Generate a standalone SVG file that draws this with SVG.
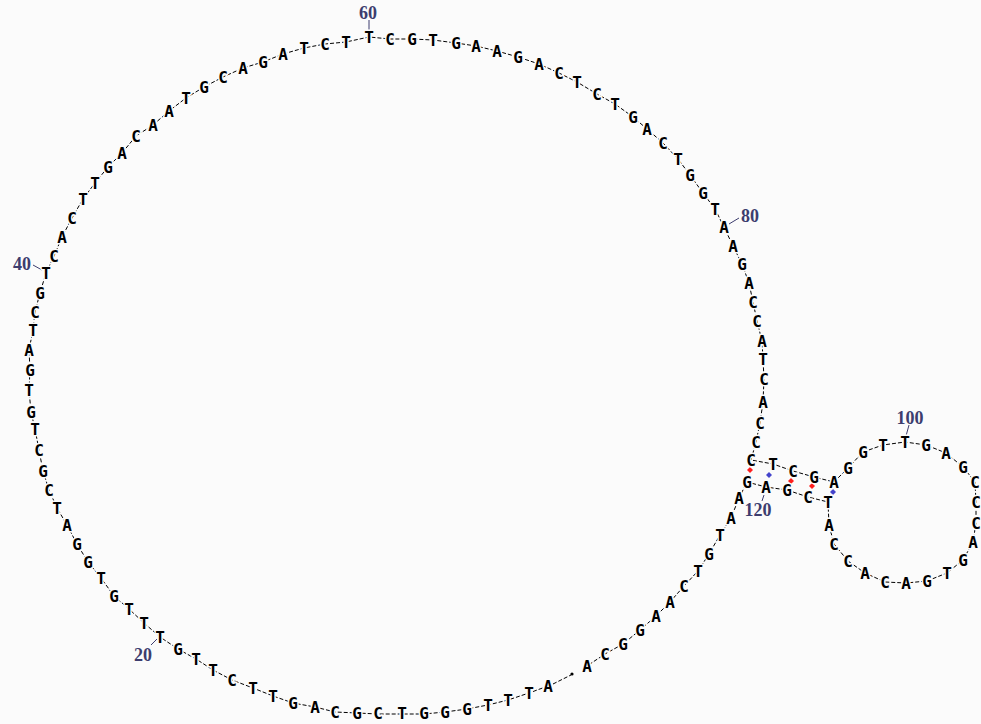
<svg xmlns="http://www.w3.org/2000/svg" width="981" height="724" viewBox="0 0 981 724">
<style>
.bg{fill:#fbfbfb}
.nt{font-family:"DejaVu Sans Mono","Liberation Mono",monospace;font-weight:bold;font-size:16px;text-anchor:middle;fill:#000;stroke:#fbfbfb;stroke-width:3px;paint-order:stroke;stroke-linejoin:round}
.bb{fill:none;stroke:#000;stroke-width:1;stroke-dasharray:4 2}
.num{font-family:"Liberation Serif","DejaVu Serif",serif;font-weight:bold;font-size:18px;text-anchor:middle;fill:#3d3d6e}
.tick{stroke:#3d3d6e;stroke-width:1}
.gc{fill:#ff1e1e}
.at{fill:#4444cc}
</style>
<rect class="bg" x="0" y="0" width="981" height="724"/>
<g id="connectors">
<polyline class="bb" points="548,686 529,693 508,700 488,705 467,709 445,712 424,714 402,714 378,714 357,713 335,712 315,707 293,703 273,696 253,688 232,680 213,670 196,659 178,649 160,637 144,623 129,609 114,596 101,578 88,562 77,544 67,525 57,508 49,490 43,471 39,450 35,429 31,412 29,390 30,370 29,350 33,330 35,312 40,293 46,273 54,256 62,237 72,218 83,199 95,183 108,167 122,153 136,136 153,125 169,111 186,98 204,87 223,77 243,68 263,62 283,54 304,48 325,44 346,42 369,37 390,39 412,39 433,40 456,43 476,46 497,51 518,57 539,64 559,73 577,82 597,94 615,104 633,117 647,129 663,143 678,159 690,175 703,193 715,209 724,227 733,246 742,264 749,283 753,302 757,321 762,341 763,359 764,379 763,402 760,423 756,442 751,460 773,464 793,471 814,477 834,482 848,468 863,452 883,445 905,442 926,445 946,453 963,467 975,482 976,502 976,523 973,542 963,560 947,573 927,581 906,583 885,582 865,573 848,561 834,544 829,525 828,502 808,497 787,490 766,487 747,482 739,498 731,518 720,535 709,554 698,571 684,586 670,602 656,616 640,630 623,644 605,654 587,666"/>
<line class="bb" x1="553" y1="684" x2="571" y2="675"/>
<circle cx="572" cy="674" r="1.6" fill="#000"/>
<line class="tick" x1="151" y1="645" x2="157" y2="639"/>
<line class="tick" x1="33" y1="265" x2="42" y2="270"/>
<line class="tick" x1="369" y1="20" x2="369" y2="31"/>
<line class="tick" x1="739" y1="218" x2="729" y2="224"/>
<line class="tick" x1="909" y1="425" x2="906" y2="436"/>
<line class="tick" x1="764" y1="495" x2="762" y2="501"/>
</g>
<g id="pairs">
<path class="gc" d="M750,467 l3,3 l-3,3 l-3,-3z"/>
<path class="at" d="M769,472 l3,3 l-3,3 l-3,-3z"/>
<path class="gc" d="M791,478 l3,3 l-3,3 l-3,-3z"/>
<path class="gc" d="M812,483 l3,3 l-3,3 l-3,-3z"/>
<path class="at" d="M833,489 l3,3 l-3,3 l-3,-3z"/>
</g>
<g id="labels">
<text class="num" x="143" y="661">20</text>
<text class="num" x="22" y="270">40</text>
<text class="num" x="368" y="19">60</text>
<text class="num" x="750" y="222">80</text>
<text class="num" x="910" y="424">100</text>
<text class="num" x="758" y="516">120</text>
</g>
<g id="n1"><text class="nt" x="548" y="692">A</text></g>
<g id="n2"><text class="nt" x="529" y="699">T</text></g>
<g id="n3"><text class="nt" x="508" y="706">T</text></g>
<g id="n4"><text class="nt" x="488" y="711">T</text></g>
<g id="n5"><text class="nt" x="467" y="715">G</text></g>
<g id="n6"><text class="nt" x="445" y="718">G</text></g>
<g id="n7"><text class="nt" x="424" y="719">G</text></g>
<g id="n8"><text class="nt" x="402" y="719">T</text></g>
<g id="n9"><text class="nt" x="378" y="719">C</text></g>
<g id="n10"><text class="nt" x="357" y="719">G</text></g>
<g id="n11"><text class="nt" x="335" y="718">C</text></g>
<g id="n12"><text class="nt" x="315" y="713">A</text></g>
<g id="n13"><text class="nt" x="293" y="709">G</text></g>
<g id="n14"><text class="nt" x="273" y="702">T</text></g>
<g id="n15"><text class="nt" x="253" y="694">T</text></g>
<g id="n16"><text class="nt" x="232" y="686">C</text></g>
<g id="n17"><text class="nt" x="213" y="676">T</text></g>
<g id="n18"><text class="nt" x="196" y="665">T</text></g>
<g id="n19"><text class="nt" x="178" y="655">G</text></g>
<g id="n20"><text class="nt" x="160" y="643">T</text></g>
<g id="n21"><text class="nt" x="144" y="629">T</text></g>
<g id="n22"><text class="nt" x="129" y="615">T</text></g>
<g id="n23"><text class="nt" x="114" y="602">G</text></g>
<g id="n24"><text class="nt" x="101" y="584">T</text></g>
<g id="n25"><text class="nt" x="88" y="568">G</text></g>
<g id="n26"><text class="nt" x="77" y="550">G</text></g>
<g id="n27"><text class="nt" x="67" y="531">A</text></g>
<g id="n28"><text class="nt" x="57" y="514">T</text></g>
<g id="n29"><text class="nt" x="49" y="496">C</text></g>
<g id="n30"><text class="nt" x="43" y="477">G</text></g>
<g id="n31"><text class="nt" x="39" y="456">C</text></g>
<g id="n32"><text class="nt" x="35" y="435">T</text></g>
<g id="n33"><text class="nt" x="31" y="418">G</text></g>
<g id="n34"><text class="nt" x="29" y="396">T</text></g>
<g id="n35"><text class="nt" x="30" y="376">G</text></g>
<g id="n36"><text class="nt" x="29" y="356">A</text></g>
<g id="n37"><text class="nt" x="33" y="336">T</text></g>
<g id="n38"><text class="nt" x="35" y="318">C</text></g>
<g id="n39"><text class="nt" x="40" y="299">G</text></g>
<g id="n40"><text class="nt" x="46" y="279">T</text></g>
<g id="n41"><text class="nt" x="54" y="262">C</text></g>
<g id="n42"><text class="nt" x="62" y="243">A</text></g>
<g id="n43"><text class="nt" x="72" y="224">C</text></g>
<g id="n44"><text class="nt" x="83" y="205">T</text></g>
<g id="n45"><text class="nt" x="95" y="189">T</text></g>
<g id="n46"><text class="nt" x="108" y="173">G</text></g>
<g id="n47"><text class="nt" x="122" y="159">A</text></g>
<g id="n48"><text class="nt" x="136" y="142">C</text></g>
<g id="n49"><text class="nt" x="153" y="131">A</text></g>
<g id="n50"><text class="nt" x="169" y="117">A</text></g>
<g id="n51"><text class="nt" x="186" y="104">T</text></g>
<g id="n52"><text class="nt" x="204" y="93">G</text></g>
<g id="n53"><text class="nt" x="223" y="83">C</text></g>
<g id="n54"><text class="nt" x="243" y="74">A</text></g>
<g id="n55"><text class="nt" x="263" y="68">G</text></g>
<g id="n56"><text class="nt" x="283" y="60">A</text></g>
<g id="n57"><text class="nt" x="304" y="54">T</text></g>
<g id="n58"><text class="nt" x="325" y="50">C</text></g>
<g id="n59"><text class="nt" x="346" y="48">T</text></g>
<g id="n60"><text class="nt" x="369" y="43">T</text></g>
<g id="n61"><text class="nt" x="390" y="45">C</text></g>
<g id="n62"><text class="nt" x="412" y="45">G</text></g>
<g id="n63"><text class="nt" x="433" y="46">T</text></g>
<g id="n64"><text class="nt" x="456" y="49">G</text></g>
<g id="n65"><text class="nt" x="476" y="52">A</text></g>
<g id="n66"><text class="nt" x="497" y="57">A</text></g>
<g id="n67"><text class="nt" x="518" y="63">G</text></g>
<g id="n68"><text class="nt" x="539" y="70">A</text></g>
<g id="n69"><text class="nt" x="559" y="79">C</text></g>
<g id="n70"><text class="nt" x="577" y="88">T</text></g>
<g id="n71"><text class="nt" x="597" y="100">C</text></g>
<g id="n72"><text class="nt" x="615" y="110">T</text></g>
<g id="n73"><text class="nt" x="633" y="123">G</text></g>
<g id="n74"><text class="nt" x="647" y="135">A</text></g>
<g id="n75"><text class="nt" x="663" y="149">C</text></g>
<g id="n76"><text class="nt" x="678" y="165">T</text></g>
<g id="n77"><text class="nt" x="690" y="181">G</text></g>
<g id="n78"><text class="nt" x="703" y="199">G</text></g>
<g id="n79"><text class="nt" x="715" y="215">T</text></g>
<g id="n80"><text class="nt" x="724" y="233">A</text></g>
<g id="n81"><text class="nt" x="733" y="252">A</text></g>
<g id="n82"><text class="nt" x="742" y="270">G</text></g>
<g id="n83"><text class="nt" x="749" y="289">A</text></g>
<g id="n84"><text class="nt" x="753" y="308">C</text></g>
<g id="n85"><text class="nt" x="757" y="327">C</text></g>
<g id="n86"><text class="nt" x="762" y="347">A</text></g>
<g id="n87"><text class="nt" x="763" y="365">T</text></g>
<g id="n88"><text class="nt" x="764" y="385">C</text></g>
<g id="n89"><text class="nt" x="763" y="408">A</text></g>
<g id="n90"><text class="nt" x="760" y="429">C</text></g>
<g id="n91"><text class="nt" x="756" y="448">C</text></g>
<g id="n92"><text class="nt" x="751" y="466">C</text></g>
<g id="n93"><text class="nt" x="773" y="470">T</text></g>
<g id="n94"><text class="nt" x="793" y="477">C</text></g>
<g id="n95"><text class="nt" x="814" y="483">G</text></g>
<g id="n96"><text class="nt" x="834" y="488">A</text></g>
<g id="n97"><text class="nt" x="848" y="474">G</text></g>
<g id="n98"><text class="nt" x="863" y="458">G</text></g>
<g id="n99"><text class="nt" x="883" y="451">T</text></g>
<g id="n100"><text class="nt" x="905" y="448">T</text></g>
<g id="n101"><text class="nt" x="926" y="451">G</text></g>
<g id="n102"><text class="nt" x="946" y="459">A</text></g>
<g id="n103"><text class="nt" x="963" y="473">G</text></g>
<g id="n104"><text class="nt" x="975" y="488">C</text></g>
<g id="n105"><text class="nt" x="976" y="508">C</text></g>
<g id="n106"><text class="nt" x="976" y="529">C</text></g>
<g id="n107"><text class="nt" x="973" y="548">A</text></g>
<g id="n108"><text class="nt" x="963" y="566">G</text></g>
<g id="n109"><text class="nt" x="947" y="579">T</text></g>
<g id="n110"><text class="nt" x="927" y="587">G</text></g>
<g id="n111"><text class="nt" x="906" y="589">A</text></g>
<g id="n112"><text class="nt" x="885" y="588">C</text></g>
<g id="n113"><text class="nt" x="865" y="579">A</text></g>
<g id="n114"><text class="nt" x="848" y="567">C</text></g>
<g id="n115"><text class="nt" x="834" y="550">C</text></g>
<g id="n116"><text class="nt" x="829" y="531">A</text></g>
<g id="n117"><text class="nt" x="828" y="508">T</text></g>
<g id="n118"><text class="nt" x="808" y="503">C</text></g>
<g id="n119"><text class="nt" x="787" y="496">G</text></g>
<g id="n120"><text class="nt" x="766" y="493">A</text></g>
<g id="n121"><text class="nt" x="747" y="488">G</text></g>
<g id="n122"><text class="nt" x="739" y="504">A</text></g>
<g id="n123"><text class="nt" x="731" y="524">A</text></g>
<g id="n124"><text class="nt" x="720" y="541">T</text></g>
<g id="n125"><text class="nt" x="709" y="560">G</text></g>
<g id="n126"><text class="nt" x="698" y="577">T</text></g>
<g id="n127"><text class="nt" x="684" y="592">C</text></g>
<g id="n128"><text class="nt" x="670" y="608">A</text></g>
<g id="n129"><text class="nt" x="656" y="622">A</text></g>
<g id="n130"><text class="nt" x="640" y="636">G</text></g>
<g id="n131"><text class="nt" x="623" y="650">G</text></g>
<g id="n132"><text class="nt" x="605" y="660">C</text></g>
<g id="n133"><text class="nt" x="587" y="672">A</text></g>
</svg>
